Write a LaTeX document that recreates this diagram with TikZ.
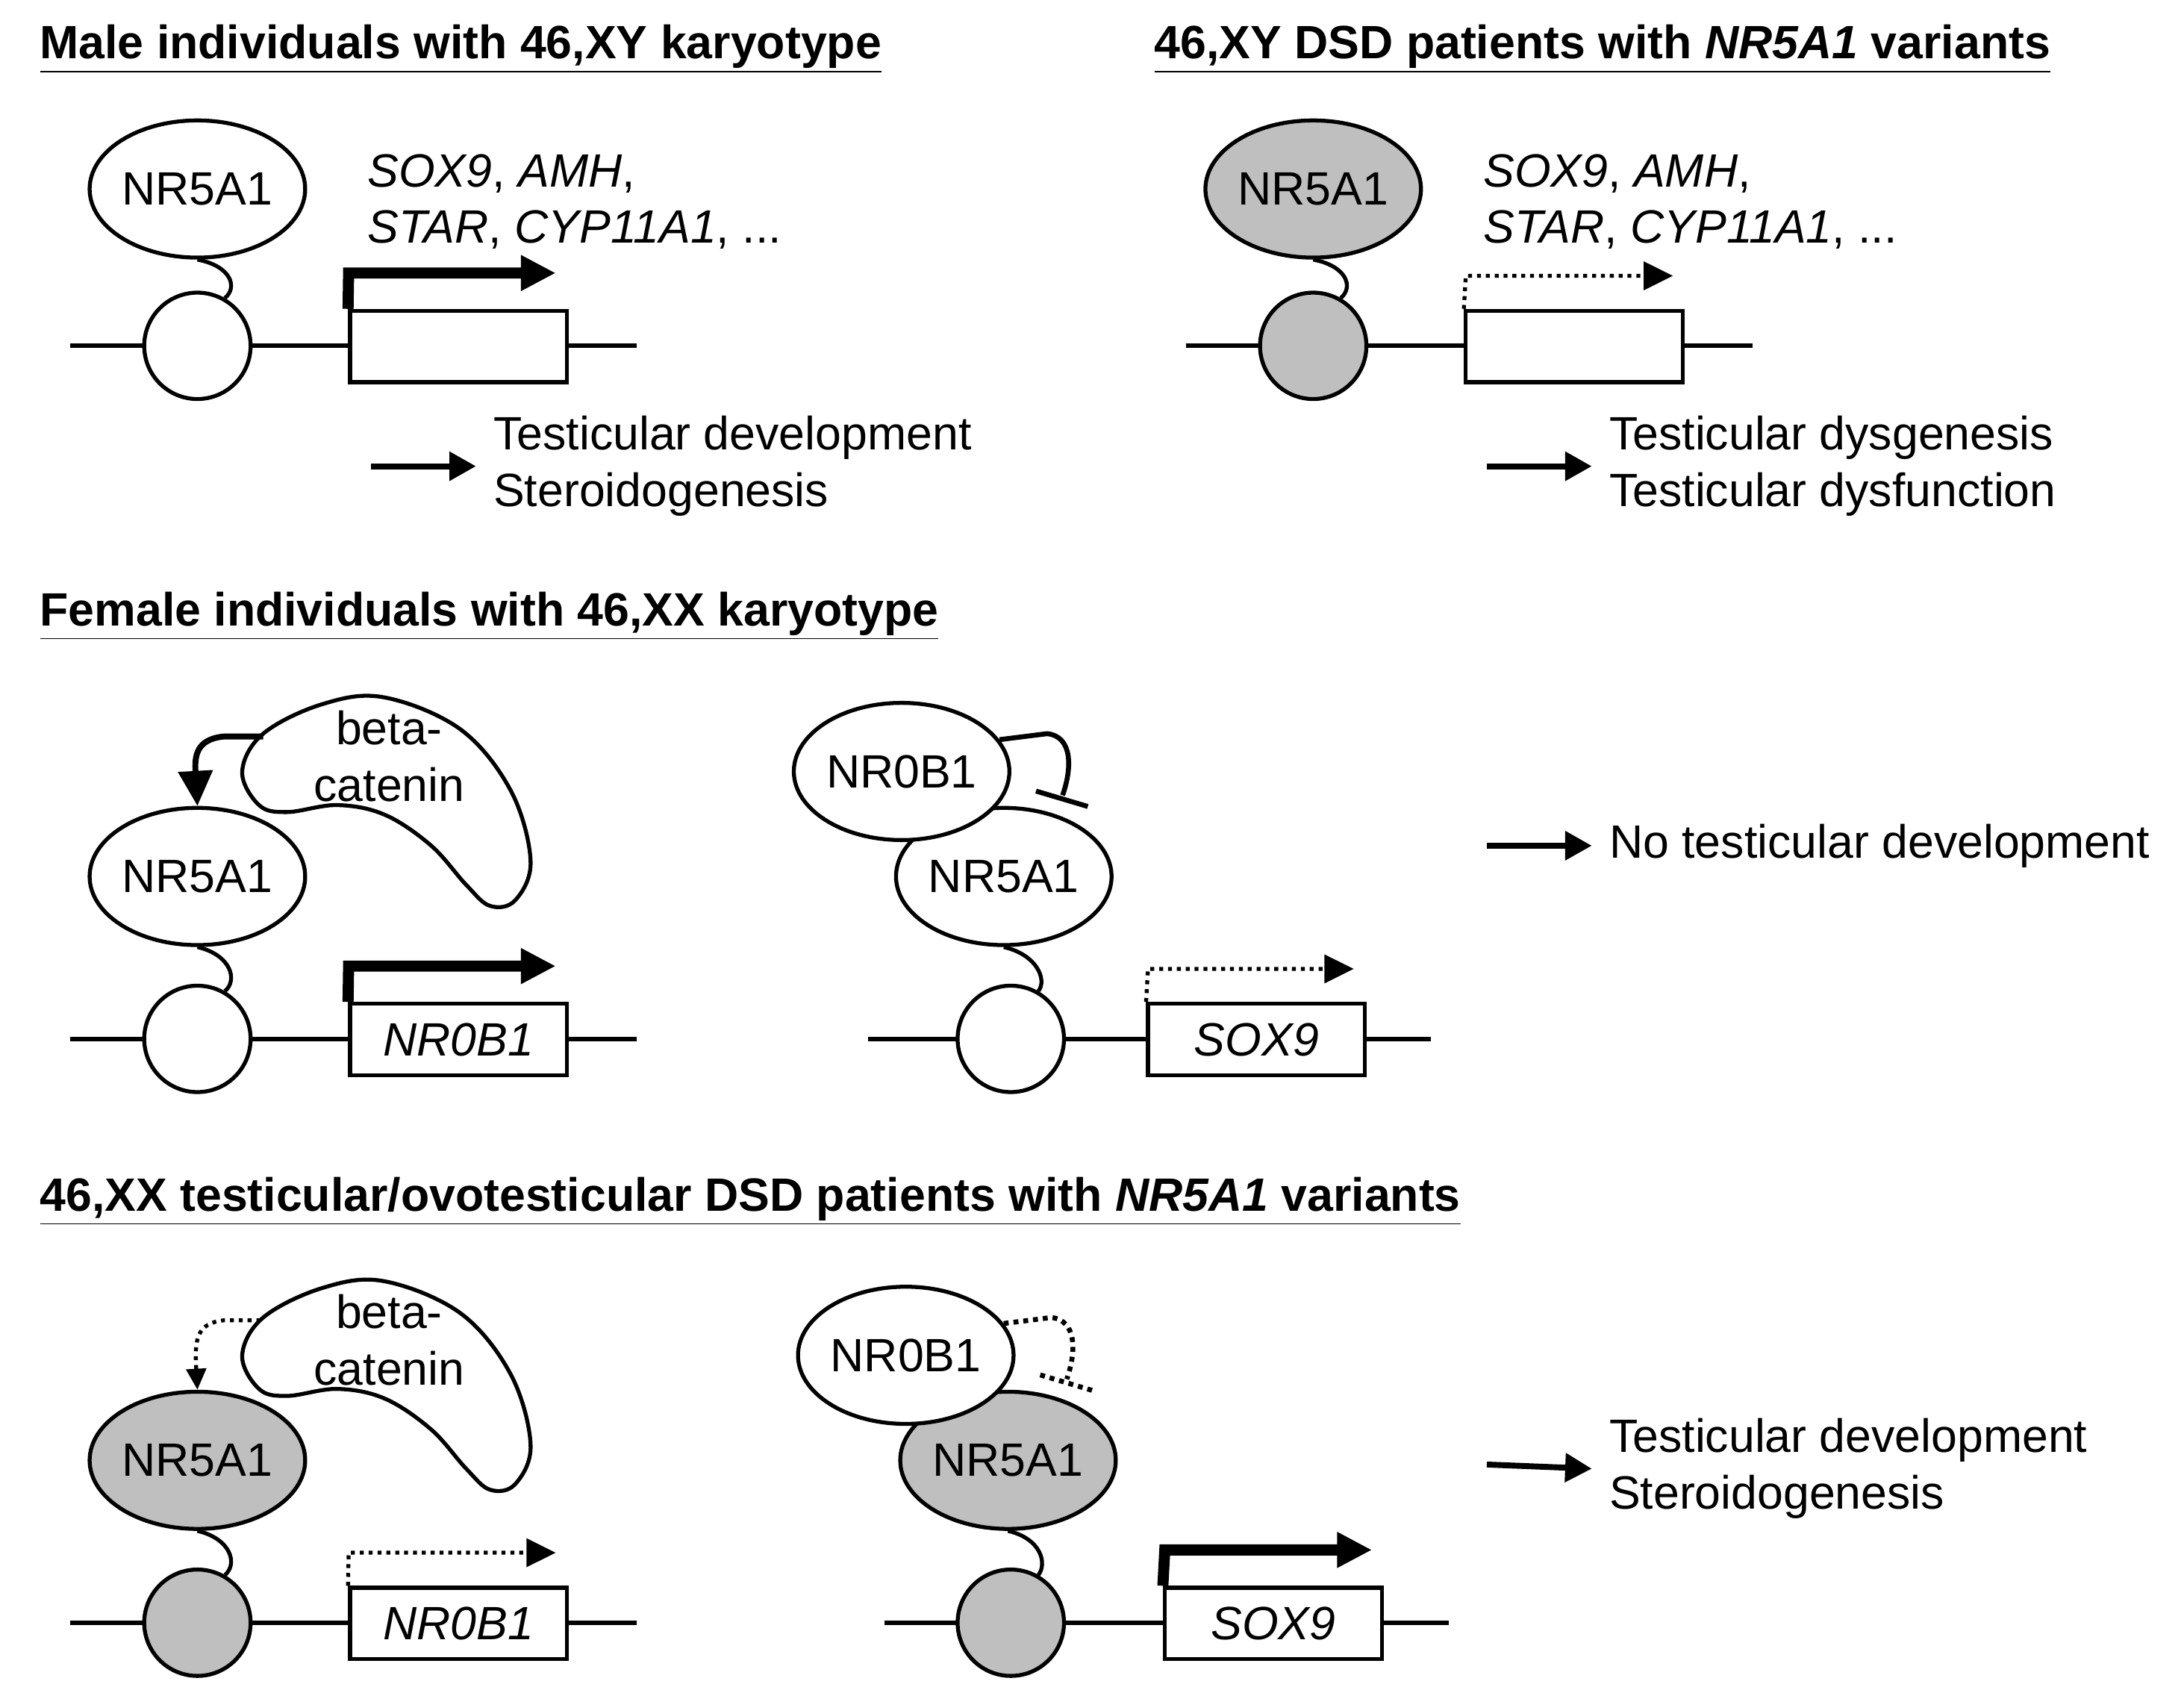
\documentclass[tikz,border=0pt]{standalone}
\usepackage{fontspec}
\setmainfont{Liberation Sans}
\usetikzlibrary{shapes.geometric,arrows.meta}
\begin{document}
\fontsize{19}{23}\selectfont
\begin{tikzpicture}[x=0.02cm,y=-0.02cm,line width=1.6pt]
\tikzstyle{protein}=[draw,ellipse,fill=white,minimum width=3.08cm,minimum height=1.96cm,inner sep=0pt]
\tikzstyle{mutant}=[protein,fill=black!25]
\tikzstyle{site}=[draw,circle,fill=white,minimum size=1.52cm,inner sep=0pt]
\tikzstyle{mutsite}=[site,fill=black!25]
\tikzstyle{gene}=[draw,rectangle,fill=white,minimum width=3.1cm,minimum height=1.02cm,inner sep=0pt,font=\itshape]
\tikzstyle{dna}=[line width=1.8pt]
\tikzstyle{active}=[line width=4.5pt,-{Triangle[length=0.5cm,width=0.48cm]}]
\tikzstyle{weak}=[line width=1.6pt,dotted,-{Triangle[length=0.42cm,width=0.4cm]}]
\tikzstyle{result}=[line width=2.4pt,-{Triangle[length=0.38cm,width=0.4cm]}]
\tikzstyle{title}=[anchor=west,font=\bfseries]
\tikzstyle{label}=[anchor=west,align=left]
\useasboundingbox (0,0) rectangle (1560,1207);
% headings
\node[title] (h1) at (16,35) {\underline{Male individuals with 46,XY karyotype}};
\node[title] (h2) at (812,35) {\underline{46,XY DSD patients with \textit{NR5A1} variants}};
\node[title] (h3) at (16,440) {\underline{Female individuals with 46,XX karyotype}};
\node[title] (h4) at (16,858) {\underline{46,XX testicular/ovotesticular DSD patients with \textit{NR5A1} variants}};
% panel 1
\coordinate (l1a) at (50,247);
\coordinate (l1b) at (455,247);
\draw[dna] (l1a) -- (l1b);
\node[site] (c1) at (141,247) {};
\node[gene] (g1) at (327.5,247.5) {};
\node[protein] (e1) at (141,135) {NR5A1};
\draw (e1.south) .. controls (165,190) and (170,205) .. (c1.60);
\coordinate (p1) at (249,195);
\coordinate (t1) at (397,195);
\draw[active] (g1.north west) -- (p1) -- (t1);
\node[label] (s1) at (250,144) {\textit{SOX9}, \textit{AMH},\\\textit{STAR}, \textit{CYP11A1}, ...};
\coordinate (a1) at (265,333);
\node[label] (r1) at (340,333) {Testicular development\\Steroidogenesis};
\draw[result] (a1) -- (r1.west);
% panel 2
\coordinate (l2a) at (847,247);
\coordinate (l2b) at (1252,247);
\draw[dna] (l2a) -- (l2b);
\node[mutsite] (c2) at (938,247) {};
\node[gene] (g2) at (1124.5,247.5) {};
\node[mutant] (e2) at (938,135) {NR5A1};
\draw (e2.south) .. controls (962,190) and (967,205) .. (c2.60);
\coordinate (p2) at (1047,197);
\coordinate (t2) at (1195,197);
\draw[weak] (g2.north west) -- (p2) -- (t2);
\node[label] (s2) at (1047,144) {\textit{SOX9}, \textit{AMH},\\\textit{STAR}, \textit{CYP11A1}, ...};
\coordinate (a2) at (1062,333);
\node[label] (r2) at (1137,333) {Testicular dysgenesis\\Testicular dysfunction};
\draw[result] (a2) -- (r2.west);
% panel 3, left
\coordinate (l3a) at (50,742);
\coordinate (l3b) at (455,742);
\draw[dna] (l3a) -- (l3b);
\node[site] (c3) at (141,742) {};
\node[gene] (g3) at (327.5,742.5) {NR0B1};
\node[protein] (e3) at (141,626) {NR5A1};
\draw (e3.south) .. controls (165,682) and (170,700) .. (c3.60);
\coordinate (p3) at (249,690);
\coordinate (t3) at (397,690);
\draw[active] (g3.north west) -- (p3) -- (t3);
\draw plot[smooth cycle,tension=0.6] coordinates {(188,524) (230,503) (274,498) (329,521) (365,565) (379,615) (368,643) (350,647) (333,632) (308,604) (275,582) (241,575) (205,580) (185,575) (173,551)};
\node[align=center,inner sep=0pt] (b3) at (278,540) {beta-\\catenin};
\coordinate (k3) at (188,526);
\draw[line width=2.4pt,-{Triangle[length=0.5cm,width=0.48cm]}] (k3) -- (160,526) .. controls (140,528) and (139,540) .. (e3.north);
% panel 3, middle
\coordinate (l3c) at (620,742);
\coordinate (l3d) at (1022,742);
\draw[dna] (l3c) -- (l3d);
\node[site] (c3m) at (722,742) {};
\node[gene] (g3m) at (897.5,742.5) {SOX9};
\node[protein] (f3) at (717,626) {NR5A1};
\node[protein] (n3) at (644,551) {NR0B1};
\draw (f3.south) .. controls (741,682) and (748,700) .. (c3m.60);
\coordinate (p3m) at (820,692);
\coordinate (t3m) at (967,692);
\draw[weak] (g3m.north west) -- (p3m) -- (t3m);
\coordinate (i3) at (759,568);
\draw[line width=2pt] (n3.18) -- (748,524) .. controls (766,526) and (766,548) .. (i3);
\draw[line width=2pt] (740,565) -- (777,576);
\coordinate (a3) at (1062,604);
\node[label] (r3) at (1137,604) {No testicular development};
\draw[result] (a3) -- (r3.west);
% panel 4, left
\coordinate (l4a) at (50,1159);
\coordinate (l4b) at (455,1159);
\draw[dna] (l4a) -- (l4b);
\node[mutsite] (c4) at (141,1159) {};
\node[gene] (g4) at (327.5,1159.5) {NR0B1};
\node[mutant] (e4) at (141,1043) {NR5A1};
\draw (e4.south) .. controls (165,1099) and (170,1117) .. (c4.60);
\coordinate (p4) at (249,1109);
\coordinate (t4) at (397,1109);
\draw[weak] (g4.north west) -- (p4) -- (t4);
\draw plot[smooth cycle,tension=0.6] coordinates {(188,941) (230,920) (274,915) (329,938) (365,982) (379,1032) (368,1060) (350,1064) (333,1049) (308,1021) (275,999) (241,992) (205,997) (185,992) (173,968)};
\node[align=center,inner sep=0pt] (b4) at (278,957) {beta-\\catenin};
\coordinate (k4) at (186,943);
\draw[weak,-{Triangle[length=0.3cm,width=0.28cm]}] (k4) -- (160,943) .. controls (140,945) and (139,957) .. (e4.north);
% panel 4, middle
\coordinate (l4c) at (632,1159);
\coordinate (l4d) at (1035,1159);
\draw[dna] (l4c) -- (l4d);
\node[mutsite] (c4m) at (722,1159) {};
\node[gene] (g4m) at (909.5,1159.5) {SOX9};
\node[mutant] (f4) at (720,1043) {NR5A1};
\node[protein] (n4) at (647,968) {NR0B1};
\draw (f4.south) .. controls (744,1099) and (748,1117) .. (c4m.60);
\coordinate (p4m) at (832,1107);
\coordinate (t4m) at (980,1107);
\draw[active] (g4m.north west) -- (p4m) -- (t4m);
\coordinate (i4) at (762,985);
\draw[line width=2pt,dotted] (n4.18) -- (751,941) .. controls (769,943) and (769,965) .. (i4);
\draw[line width=2pt,dotted] (743,982) -- (780,993);
\coordinate (a4) at (1062,1046);
\node[label] (r4) at (1137,1049) {Testicular development\\Steroidogenesis};
\draw[result] (a4) -- (r4.west);
\end{tikzpicture}
\end{document}
